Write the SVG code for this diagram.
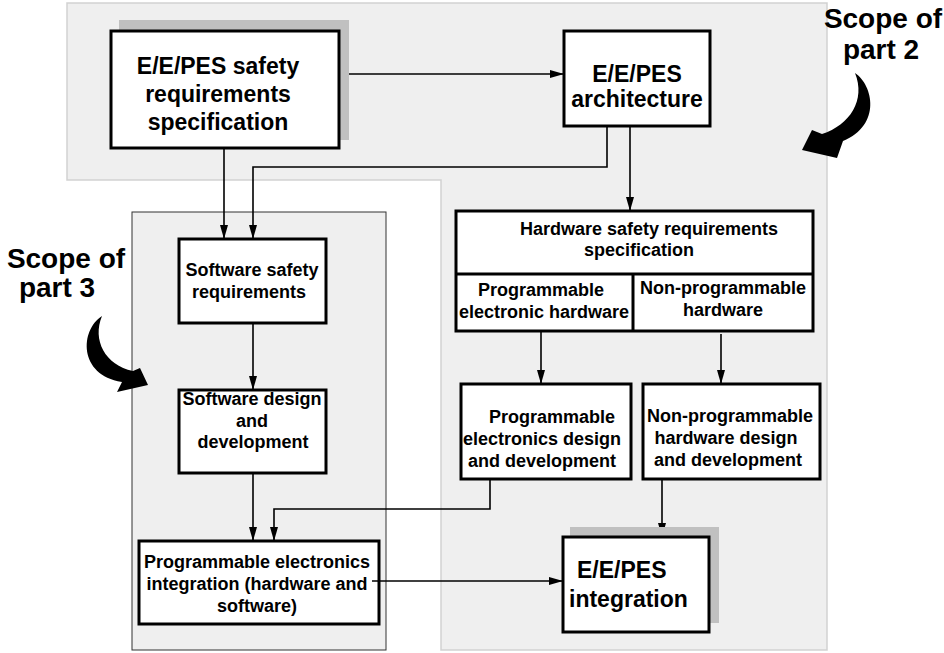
<svg xmlns="http://www.w3.org/2000/svg" width="944" height="653" viewBox="0 0 944 653">
<style>
.bg{fill:#efefef}
.box{fill:#fff;stroke:#000;stroke-width:3}
.sh{fill:#c0c0c0}
.t{font-family:"Liberation Sans",Arial,sans-serif;font-weight:bold;fill:#000;text-anchor:middle}
.s18{font-size:18px}
.s23{font-size:23px}
.s28{font-size:28px}
.c{fill:none;stroke:#000;stroke-width:1.6}
</style>
<defs>
<marker id="ah" markerUnits="userSpaceOnUse" viewBox="0 0 14 8" refX="14" refY="4" markerWidth="14" markerHeight="8" orient="auto">
<path d="M0,0 L14,4 L0,8 Z" fill="#000"/>
</marker>
</defs>
<g id="scope2">
<path class="bg" d="M67,3 H827 V650 H441 V180 H67 Z" stroke="#d2d2d2" stroke-width="1.5"/>
<text class="t s28" x="883" y="28">Scope of</text>
<text class="t s28" x="881" y="59">part 2</text>
<path d="M855,73 C873,85 882,125 843,141 L837,158 L802,150 L812,130 L822,134 C850,125 866,100 855,73 Z" fill="#000"/>
</g>
<g id="scope3">
<rect class="bg" x="132" y="212" width="254" height="438" stroke="#333" stroke-width="1"/>
<text class="t s28" x="66" y="268">Scope of</text>
<text class="t s28" x="57" y="297">part 3</text>
<path d="M102,316 C80,330 78,375 122,382 L117,392 L148,385 L140,368 L133,371 C105,365 92,340 102,316 Z" fill="#000"/>
</g>
<g id="connectors">
<path class="c" d="M339,74 H564" marker-end="url(#ah)"/>
<path class="c" d="M224,148 V239" marker-end="url(#ah)"/>
<path class="c" d="M607,126 V167 H253 V239" marker-end="url(#ah)"/>
<path class="c" d="M630,126 V211" marker-end="url(#ah)"/>
<path class="c" d="M541,331 V384" marker-end="url(#ah)"/>
<path class="c" d="M721,334 V384" marker-end="url(#ah)"/>
<path class="c" d="M253,323 V390" marker-end="url(#ah)"/>
<path class="c" d="M253,473 V541" marker-end="url(#ah)"/>
<path class="c" d="M490,479 V509 H274 V541" marker-end="url(#ah)"/>
<path class="c" d="M662,479 V537" marker-end="url(#ah)"/>
</g>
<g id="ee-srs">
<rect class="sh" x="119" y="20" width="230" height="120"/>
<rect class="box" x="111" y="31" width="228" height="117"/>
<text class="t s23" x="218" y="74">E/E/PES safety</text>
<text class="t s23" x="218" y="102">requirements</text>
<text class="t s23" x="218" y="130">specification</text>
</g>
<g id="ee-arch">
<rect class="box" x="564" y="31" width="146" height="95"/>
<text class="t s23" x="637" y="82">E/E/PES</text>
<text class="t s23" x="637" y="107">architecture</text>
</g>
<g id="hw-srs">
<rect class="box" x="456" y="211" width="357" height="120"/>
<path d="M456,274 H813 M633,274 V331" stroke="#000" stroke-width="3"/>
<text class="t s18" x="649" y="235">Hardware safety requirements</text>
<text class="t s18" x="639" y="256">specification</text>
<text class="t s18" x="541" y="296">Programmable</text>
<text class="t s18" x="544" y="318">electronic hardware</text>
<text class="t s18" x="723" y="294">Non-programmable</text>
<text class="t s18" x="723" y="316">hardware</text>
</g>
<g id="pe-design">
<rect class="box" x="461" y="384" width="170" height="95"/>
<text class="t s18" x="552" y="423">Programmable</text>
<text class="t s18" x="542" y="445">electronics design</text>
<text class="t s18" x="542" y="467">and development</text>
</g>
<g id="np-design">
<rect class="box" x="643" y="384" width="177" height="95"/>
<text class="t s18" x="730" y="422">Non-programmable</text>
<text class="t s18" x="726" y="444">hardware design</text>
<text class="t s18" x="728" y="466">and development</text>
</g>
<g id="sw-srs">
<rect class="box" x="179" y="239" width="147" height="84"/>
<text class="t s18" x="252" y="276">Software safety</text>
<text class="t s18" x="249" y="298">requirements</text>
</g>
<g id="sw-design">
<rect class="box" x="179" y="390" width="147" height="83"/>
<text class="t s18" x="252" y="405">Software design</text>
<text class="t s18" x="252" y="427">and</text>
<text class="t s18" x="253" y="448">development</text>
</g>
<g id="pe-integration">
<rect class="box" x="139" y="541" width="240" height="83"/>
<text class="t s18" x="257" y="568">Programmable electronics</text>
<text class="t s18" x="257" y="590">integration (hardware and</text>
<text class="t s18" x="257" y="612">software)</text>
</g>
<g id="ee-integration">
<rect class="sh" x="570" y="527" width="149" height="96"/>
<rect class="box" x="563" y="537" width="146" height="95"/>
<text class="t s23" x="577" y="578" style="text-anchor:start">E/E/PES</text>
<text class="t s23" x="569" y="607" style="text-anchor:start">integration</text>
</g>
<g id="connectors-top">
<path class="c" d="M372,581 H563" marker-end="url(#ah)"/>
</g>
</svg>
